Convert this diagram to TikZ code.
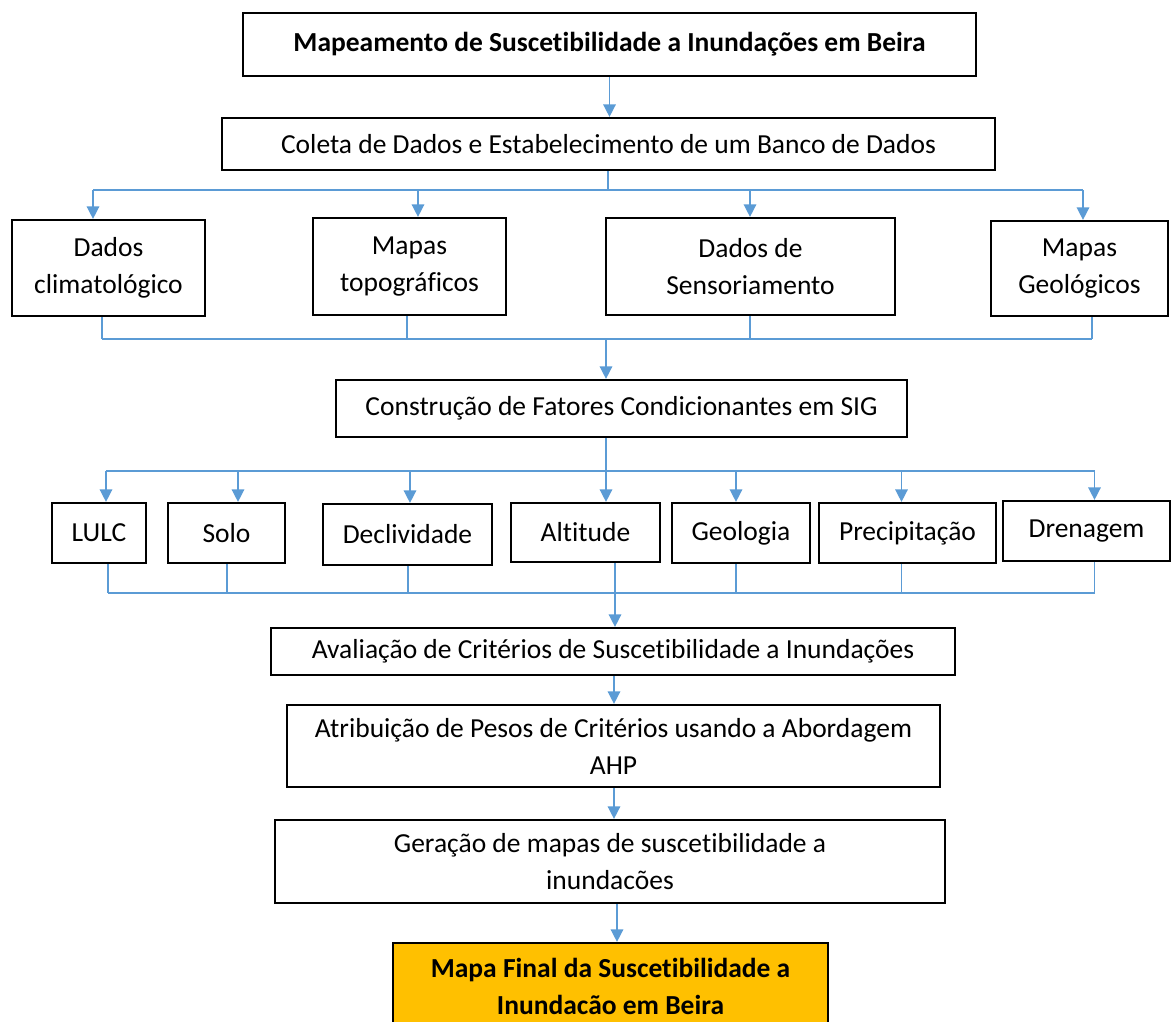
\documentclass[tikz,border=0pt]{standalone}
\usepackage{fontspec}
\setmainfont{Carlito}[RawFeature=-liga]
\usetikzlibrary{arrows.meta}
\definecolor{lineblue}{HTML}{5B9BD5}
\definecolor{finalorange}{HTML}{FFC000}
\begin{document}
\begin{tikzpicture}[x=1pt,y=-1pt,
  box/.style={draw=black, line width=2.2pt, inner sep=0pt, align=center,
    font=\fontsize{27.5}{37}\selectfont},
  boldbox/.style={box, font=\fontsize{27.5}{37}\selectfont\bfseries},
  conn/.style={draw=lineblue, line width=1.5pt},
  arr/.style={conn, -{Triangle[width=12.5pt,length=12.5pt]}}]
\useasboundingbox (0,0) rectangle (1171,1021);
% main boxes
\node[boldbox, minimum width=733pt, minimum height=63pt] (t) at (609.5,44.5) {Mapeamento de Suscetibilidade a Inundações em Beira};
\node[box, minimum width=773pt, minimum height=52pt] (c) at (608.5,144) {Coleta de Dados e Estabelecimento de um Banco de Dados};
% data sources
\node[box, minimum width=193pt, minimum height=96pt] (b1) at (108.5,268) {Dados\\climatológico};
\node[box, minimum width=193pt, minimum height=97pt] (b2) at (409.5,266.5) {Mapas\\topográficos};
\node[box, minimum width=289pt, minimum height=97pt] (b3) at (750.5,266.5) {Dados de\\Sensoriamento};
\node[box, minimum width=177pt, minimum height=95pt] (b4) at (1079.5,268.5) {Mapas\\Geológicos};
\node[box, minimum width=571pt, minimum height=57pt] (k) at (621.5,408.5) {Construção de Fatores Condicionantes em SIG};
% factors
\node[box, minimum width=94pt, minimum height=60pt] (r1) at (99,533) {LULC};
\node[box, minimum width=117pt, minimum height=60pt] (r2) at (226.5,533) {Solo};
\node[box, minimum width=169pt, minimum height=61pt] (r3) at (407.5,534.5) {Declividade};
\node[box, minimum width=149pt, minimum height=59pt] (r4) at (585.5,532.5) {Altitude};
\node[box, minimum width=138pt, minimum height=60pt] (r5) at (741,533) {Geologia};
\node[box, minimum width=177pt, minimum height=60pt] (r6) at (907.5,533) {Precipitação};
\node[box, minimum width=167pt, minimum height=60pt] (r7) at (1086.5,531) {Drenagem};
% lower chain
\node[box, minimum width=684pt, minimum height=47pt] (v) at (613,651.5) {Avaliação de Critérios de Suscetibilidade a Inundações};
\node[box, minimum width=653pt, minimum height=82pt] (p) at (613.5,746) {Atribuição de Pesos de Critérios usando a Abordagem\\AHP};
\node[box, minimum width=670pt, minimum height=83pt] (g) at (610,861.5) {Geração de mapas de suscetibilidade a\\inundacões};
\node[boldbox, fill=finalorange, minimum width=435pt, minimum height=87pt] (f) at (610.5,986.5) {Mapa Final da Suscetibilidade a\\Inundacão em Beira};
% connector coordinates
\coordinate (bus1) at (608,190);
\coordinate (bus2) at (606,339);
\coordinate (bus3) at (606,471);
\coordinate (bus4) at (615,593);
\coordinate (a1) at (93,190);
\coordinate (a2) at (418,190);
\coordinate (a3) at (750,190);
\coordinate (a4) at (1083,190);
\coordinate (d1) at (102,339);
\coordinate (d2) at (407,339);
\coordinate (d3) at (750,339);
\coordinate (d4) at (1092,339);
\coordinate (e1) at (106,471);
\coordinate (e2) at (238,471);
\coordinate (e3) at (410,471);
\coordinate (e4) at (606,471);
\coordinate (e5) at (736,471);
\coordinate (e6) at (901.5,471);
\coordinate (e7) at (1094.5,471);
\coordinate (h1) at (108,593);
\coordinate (h2) at (227,593);
\coordinate (h3) at (408,593);
\coordinate (h4) at (615,593);
\coordinate (h5) at (736,593);
\coordinate (h6) at (901.5,593);
\coordinate (h7) at (1094.5,593);
% connectors
\draw[arr] (t.south) -- (t.south |- c.north);
\draw[conn] (c.south -| bus1) -- (bus1);
\draw[conn] (a1) -- (a4);
\draw[arr] (a1) -- (a1 |- b1.north);
\draw[arr] (a2) -- (a2 |- b2.north);
\draw[arr] (a3) -- (a3 |- b3.north);
\draw[arr] (a4) -- (a4 |- b4.north);
\draw[conn] (d1 |- b1.south) -- (d1);
\draw[conn] (d2 |- b2.south) -- (d2);
\draw[conn] (d3 |- b3.south) -- (d3);
\draw[conn] (d4 |- b4.south) -- (d4);
\draw[conn] (d1) -- (d4);
\draw[arr] (bus2) -- (bus2 |- k.north);
\draw[conn] (bus3 |- k.south) -- (bus3);
\draw[conn] (e1) -- (e7);
\draw[arr] (e1) -- (e1 |- r1.north);
\draw[arr] (e2) -- (e2 |- r2.north);
\draw[arr] (e3) -- (e3 |- r3.north);
\draw[arr] (e4) -- (e4 |- r4.north);
\draw[arr] (e5) -- (e5 |- r5.north);
\draw[arr] (e6) -- (e6 |- r6.north);
\draw[arr] (e7) -- (e7 |- r7.north);
\draw[conn] (h1 |- r1.south) -- (h1);
\draw[conn] (h2 |- r2.south) -- (h2);
\draw[conn] (h3 |- r3.south) -- (h3);
\draw[conn] (h4 |- r4.south) -- (h4);
\draw[conn] (h5 |- r5.south) -- (h5);
\draw[conn] (h6 |- r6.south) -- (h6);
\draw[conn] (h7 |- r7.south) -- (h7);
\draw[conn] (h1) -- (h7);
\draw[arr] (bus4) -- (bus4 |- v.north);
\draw[arr] (v.south -| 614,0) -- (p.north -| 614,0);
\draw[arr] (p.south -| 614,0) -- (g.north -| 614,0);
\draw[arr] (g.south -| 617,0) -- (f.north -| 617,0);
\end{tikzpicture}
\end{document}
